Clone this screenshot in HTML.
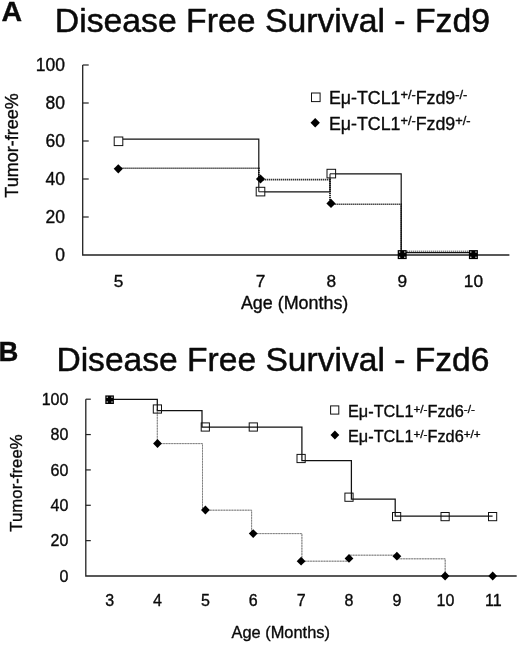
<!DOCTYPE html>
<html lang="en"><head><meta charset="utf-8"><title>Disease Free Survival</title>
<style>html,body{margin:0;padding:0;background:#fff;}body{width:520px;height:645px;overflow:hidden;}svg{display:block;will-change:transform;}text{font-family:"Liberation Sans", Arial, Helvetica, sans-serif;fill:#0a0a0a;stroke:#0a0a0a;stroke-width:0.35px;stroke-linejoin:round;}</style></head><body>
<svg width="520" height="645" viewBox="0 0 520 645">
<rect width="520" height="645" fill="#fff"/>
<text transform="translate(1.40,21.40) scale(1.000,1)" font-size="28.50" text-anchor="start" font-weight="bold">A</text>
<text transform="translate(54.80,31.70) scale(1.000,1)" font-size="33.75" text-anchor="start" font-weight="normal" style="stroke-width:0.5px">Disease Free Survival - Fzd9</text>
<path d="M82.70,65.00 L82.70,255.00 L509.40,255.00" fill="none" stroke="#222" stroke-width="1.30"/>
<path d="M82.70,65.00 L88.70,65.00" fill="none" stroke="#222" stroke-width="1.20"/>
<text transform="translate(64.90,71.20) scale(1.000,1)" font-size="17.50" text-anchor="end" font-weight="normal">100</text>
<path d="M82.70,103.00 L88.70,103.00" fill="none" stroke="#222" stroke-width="1.20"/>
<text transform="translate(64.90,109.20) scale(1.000,1)" font-size="17.50" text-anchor="end" font-weight="normal">80</text>
<path d="M82.70,141.00 L88.70,141.00" fill="none" stroke="#222" stroke-width="1.20"/>
<text transform="translate(64.90,147.20) scale(1.000,1)" font-size="17.50" text-anchor="end" font-weight="normal">60</text>
<path d="M82.70,179.00 L88.70,179.00" fill="none" stroke="#222" stroke-width="1.20"/>
<text transform="translate(64.90,185.20) scale(1.000,1)" font-size="17.50" text-anchor="end" font-weight="normal">40</text>
<path d="M82.70,217.00 L88.70,217.00" fill="none" stroke="#222" stroke-width="1.20"/>
<text transform="translate(64.90,223.20) scale(1.000,1)" font-size="17.50" text-anchor="end" font-weight="normal">20</text>
<text transform="translate(64.90,261.20) scale(1.000,1)" font-size="17.50" text-anchor="end" font-weight="normal">0</text>
<text transform="translate(118.50,286.70) scale(1.000,1)" font-size="17.30" text-anchor="middle" font-weight="normal">5</text>
<text transform="translate(260.50,286.70) scale(1.000,1)" font-size="17.30" text-anchor="middle" font-weight="normal">7</text>
<text transform="translate(331.30,286.70) scale(1.000,1)" font-size="17.30" text-anchor="middle" font-weight="normal">8</text>
<text transform="translate(402.20,286.70) scale(1.000,1)" font-size="17.30" text-anchor="middle" font-weight="normal">9</text>
<text transform="translate(473.40,286.70) scale(1.000,1)" font-size="17.30" text-anchor="middle" font-weight="normal">10</text>
<text transform="translate(294.60,309.40) scale(1.000,1)" font-size="17.90" text-anchor="middle" font-weight="normal">Age (Months)</text>
<text transform="translate(17.70,145.50) rotate(-90) scale(1.000,1)" font-size="18.00" text-anchor="middle">Tumor-free%</text>
<path d="M118.50,168.30 L258.80,168.30 L258.80,179.60 L330.00,179.60 L330.00,204.20 L401.20,204.20 L401.20,251.20" fill="none" stroke="#000" stroke-width="1.60" stroke-dasharray="1.1 0.9"/>
<path d="M401.20,251.20 L473.40,251.20" fill="none" stroke="#222" stroke-width="1.00" stroke-dasharray="1.1 0.9"/>
<path d="M118.50,139.20 L258.80,139.20 L258.80,191.80 L330.00,191.80 L330.00,173.80 L401.20,173.80 L401.20,252.60 L473.40,252.60" fill="none" stroke="#111" stroke-width="1.20"/>
<rect x="114.20" y="137.00" width="8.60" height="8.60" fill="#fff" stroke="#111" stroke-width="1"/>
<rect x="256.20" y="187.30" width="8.60" height="8.60" fill="#fff" stroke="#111" stroke-width="1"/>
<rect x="327.00" y="169.30" width="8.60" height="8.60" fill="#fff" stroke="#111" stroke-width="1"/>
<path d="M258.80,187.30 L258.80,191.80 L264.80,191.80" fill="none" stroke="#111" stroke-width="1.00"/>
<path d="M330.00,177.90 L330.00,173.80 L335.60,173.80" fill="none" stroke="#111" stroke-width="1.00"/>
<polygon points="113.70,168.80 118.30,164.20 122.90,168.80 118.30,173.40" fill="#000"/>
<polygon points="255.90,179.00 260.50,174.40 265.10,179.00 260.50,183.60" fill="#000"/>
<polygon points="326.40,203.40 331.00,198.80 335.60,203.40 331.00,208.00" fill="#000"/>
<rect x="397.70" y="250.10" width="9.00" height="9.00" fill="#000"/>
<circle cx="399.60" cy="252.00" r="0.75" fill="#ddd"/>
<circle cx="399.60" cy="257.20" r="0.75" fill="#ddd"/>
<circle cx="404.80" cy="252.00" r="0.75" fill="#ddd"/>
<circle cx="404.80" cy="257.20" r="0.75" fill="#ddd"/>
<rect x="468.90" y="250.10" width="9.00" height="9.00" fill="#000"/>
<circle cx="470.80" cy="252.00" r="0.75" fill="#ddd"/>
<circle cx="470.80" cy="257.20" r="0.75" fill="#ddd"/>
<circle cx="476.00" cy="252.00" r="0.75" fill="#ddd"/>
<circle cx="476.00" cy="257.20" r="0.75" fill="#ddd"/>
<rect x="311.50" y="93.00" width="8.60" height="8.60" fill="#fff" stroke="#111" stroke-width="1"/>
<polygon points="310.50,122.80 315.20,118.10 319.90,122.80 315.20,127.50" fill="#000"/>
<text transform="translate(328.90,103.50) scale(1.000,1)" font-size="17.80" text-anchor="start" font-weight="normal">Eμ-TCL1<tspan font-size="12.82" dy="-4.45">+/-</tspan><tspan dy="4.45">Fzd9</tspan><tspan font-size="12.82" dy="-4.45">-/-</tspan></text>
<text transform="translate(328.90,129.60) scale(1.000,1)" font-size="17.80" text-anchor="start" font-weight="normal">Eμ-TCL1<tspan font-size="12.82" dy="-4.45">+/-</tspan><tspan dy="4.45">Fzd9</tspan><tspan font-size="12.82" dy="-4.45">+/-</tspan></text>
<text transform="translate(-1.40,360.80) scale(1.000,1)" font-size="27.50" text-anchor="start" font-weight="bold">B</text>
<text transform="translate(56.40,370.90) scale(1.000,1)" font-size="33.60" text-anchor="start" font-weight="normal" style="stroke-width:0.5px">Disease Free Survival - Fzd6</text>
<path d="M85.80,399.20 L85.80,576.00 L516.70,576.00" fill="none" stroke="#222" stroke-width="1.30"/>
<path d="M85.80,399.20 L90.80,399.20" fill="none" stroke="#222" stroke-width="1.20"/>
<text transform="translate(68.40,404.80) scale(1.000,1)" font-size="16.00" text-anchor="end" font-weight="normal">100</text>
<path d="M85.80,434.56 L90.80,434.56" fill="none" stroke="#222" stroke-width="1.20"/>
<text transform="translate(68.40,440.16) scale(1.000,1)" font-size="16.00" text-anchor="end" font-weight="normal">80</text>
<path d="M85.80,469.92 L90.80,469.92" fill="none" stroke="#222" stroke-width="1.20"/>
<text transform="translate(68.40,475.52) scale(1.000,1)" font-size="16.00" text-anchor="end" font-weight="normal">60</text>
<path d="M85.80,505.28 L90.80,505.28" fill="none" stroke="#222" stroke-width="1.20"/>
<text transform="translate(68.40,510.88) scale(1.000,1)" font-size="16.00" text-anchor="end" font-weight="normal">40</text>
<path d="M85.80,540.64 L90.80,540.64" fill="none" stroke="#222" stroke-width="1.20"/>
<text transform="translate(68.40,546.24) scale(1.000,1)" font-size="16.00" text-anchor="end" font-weight="normal">20</text>
<text transform="translate(68.40,581.60) scale(1.000,1)" font-size="16.00" text-anchor="end" font-weight="normal">0</text>
<text transform="translate(109.70,605.60) scale(1.000,1)" font-size="16.00" text-anchor="middle" font-weight="normal">3</text>
<text transform="translate(157.57,605.60) scale(1.000,1)" font-size="16.00" text-anchor="middle" font-weight="normal">4</text>
<text transform="translate(205.45,605.60) scale(1.000,1)" font-size="16.00" text-anchor="middle" font-weight="normal">5</text>
<text transform="translate(253.32,605.60) scale(1.000,1)" font-size="16.00" text-anchor="middle" font-weight="normal">6</text>
<text transform="translate(301.20,605.60) scale(1.000,1)" font-size="16.00" text-anchor="middle" font-weight="normal">7</text>
<text transform="translate(349.07,605.60) scale(1.000,1)" font-size="16.00" text-anchor="middle" font-weight="normal">8</text>
<text transform="translate(396.95,605.60) scale(1.000,1)" font-size="16.00" text-anchor="middle" font-weight="normal">9</text>
<text transform="translate(445.43,605.60) scale(1.000,1)" font-size="16.00" text-anchor="middle" font-weight="normal">10</text>
<text transform="translate(493.30,605.60) scale(1.000,1)" font-size="16.00" text-anchor="middle" font-weight="normal">11</text>
<text transform="translate(280.70,638.30) scale(1.000,1)" font-size="16.40" text-anchor="middle" font-weight="normal">Age (Months)</text>
<text transform="translate(22.40,483.00) rotate(-90) scale(1.000,1)" font-size="16.80" text-anchor="middle">Tumor-free%</text>
<path d="M157.30,409.00 L157.30,443.60 L202.50,443.60 L202.50,510.20 L251.60,510.20 L251.60,533.60 L301.90,533.60 L301.90,561.20 L349.00,561.20 L349.00,555.20 L396.90,555.20 L396.90,558.80 L445.20,558.80 L445.20,576.00" fill="none" stroke="#b8b8b8" stroke-width="1.00"/>
<path d="M157.30,409.00 L157.30,443.60 L202.50,443.60 L202.50,510.20 L251.60,510.20 L251.60,533.60 L301.90,533.60 L301.90,561.20 L349.00,561.20 L349.00,555.20 L396.90,555.20 L396.90,558.80 L445.20,558.80 L445.20,576.00" fill="none" stroke="#808080" stroke-width="1.00" stroke-dasharray="1.6 1.1"/>
<path d="M109.70,399.30 L157.30,399.30 L157.30,410.60 L202.00,410.60 L202.00,427.00 L301.90,427.00 L301.90,460.60 L351.40,460.60 L351.40,499.00 L395.20,499.00 L395.20,516.20 L492.60,516.20" fill="none" stroke="#111" stroke-width="1.25"/>
<rect x="153.30" y="404.90" width="8.2" height="8.2" fill="none" stroke="#111" stroke-width="1"/>
<rect x="201.20" y="422.90" width="8.2" height="8.2" fill="none" stroke="#111" stroke-width="1"/>
<rect x="249.20" y="422.90" width="8.2" height="8.2" fill="none" stroke="#111" stroke-width="1"/>
<rect x="297.00" y="454.40" width="8.2" height="8.2" fill="none" stroke="#111" stroke-width="1"/>
<rect x="344.90" y="493.10" width="8.2" height="8.2" fill="none" stroke="#111" stroke-width="1"/>
<rect x="392.50" y="512.50" width="8.2" height="8.2" fill="none" stroke="#111" stroke-width="1"/>
<rect x="441.00" y="512.50" width="8.2" height="8.2" fill="none" stroke="#111" stroke-width="1"/>
<rect x="488.50" y="512.50" width="8.2" height="8.2" fill="none" stroke="#111" stroke-width="1"/>
<rect x="105.30" y="395.40" width="8.60" height="8.60" fill="#000"/>
<circle cx="107.20" cy="397.30" r="0.75" fill="#ddd"/>
<circle cx="107.20" cy="402.10" r="0.75" fill="#ddd"/>
<circle cx="112.00" cy="397.30" r="0.75" fill="#ddd"/>
<circle cx="112.00" cy="402.10" r="0.75" fill="#ddd"/>
<polygon points="153.10,443.50 157.50,439.10 161.90,443.50 157.50,447.90" fill="#000"/>
<polygon points="201.00,510.00 205.40,505.60 209.80,510.00 205.40,514.40" fill="#000"/>
<polygon points="248.80,533.60 253.20,529.20 257.60,533.60 253.20,538.00" fill="#000"/>
<polygon points="296.70,561.20 301.10,556.80 305.50,561.20 301.10,565.60" fill="#000"/>
<polygon points="344.60,558.40 349.00,554.00 353.40,558.40 349.00,562.80" fill="#000"/>
<polygon points="392.50,556.20 396.90,551.80 401.30,556.20 396.90,560.60" fill="#000"/>
<polygon points="440.70,576.00 445.10,571.60 449.50,576.00 445.10,580.40" fill="#000"/>
<polygon points="488.30,576.00 492.70,571.60 497.10,576.00 492.70,580.40" fill="#000"/>
<rect x="330.60" y="405.90" width="8.20" height="8.20" fill="#fff" stroke="#111" stroke-width="1"/>
<polygon points="330.50,435.00 334.90,430.60 339.30,435.00 334.90,439.40" fill="#000"/>
<text transform="translate(348.00,416.80) scale(1.000,1)" font-size="16.30" text-anchor="start" font-weight="normal">Eμ-TCL1<tspan font-size="11.74" dy="-4.08">+/-</tspan><tspan dy="4.08">Fzd6</tspan><tspan font-size="11.74" dy="-4.08">-/-</tspan></text>
<text transform="translate(348.00,441.90) scale(1.000,1)" font-size="16.30" text-anchor="start" font-weight="normal">Eμ-TCL1<tspan font-size="11.74" dy="-4.08">+/-</tspan><tspan dy="4.08">Fzd6</tspan><tspan font-size="11.74" dy="-4.08">+/+</tspan></text>
</svg></body></html>
